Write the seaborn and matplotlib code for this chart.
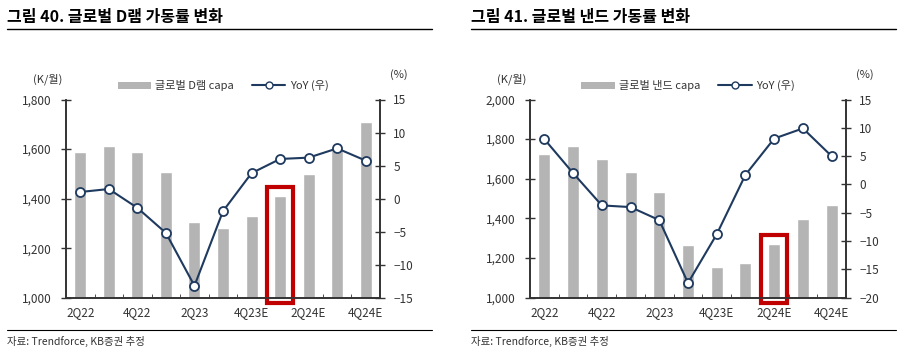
import matplotlib
matplotlib.use('Agg')
import matplotlib.pyplot as plt
import seaborn as sns
import pandas as pd
from matplotlib.patches import Rectangle, Patch
from matplotlib.lines import Line2D
from matplotlib.ticker import FuncFormatter

quarters = ['2Q22', '3Q22', '4Q22', '1Q23', '2Q23', '3Q23', '4Q23E',
            '1Q24E', '2Q24E', '3Q24E', '4Q24E']
tick_labels = ['2Q22', '', '4Q22', '', '2Q23', '', '4Q23E', '', '2Q24E', '', '4Q24E']

dram_capa = [1590, 1613, 1590, 1507, 1306, 1281, 1330, 1412, 1500, 1605, 1708]
dram_yoy = [1.0, 1.45, -1.4, -5.2, -13.2, -1.9, 3.85, 6.0, 6.2, 7.6, 5.75]
nand_capa = [1726, 1763, 1699, 1632, 1534, 1266, 1157, 1175, 1271, 1398, 1468]
nand_yoy = [8.0, 2.0, -3.7, -4.0, -6.3, -17.4, -8.8, 1.7, 8.1, 9.9, 5.0]

sns.set_style('white')
plt.rcParams['font.family'] = ['Noto Sans CJK KR', 'DejaVu Sans']

BAR = '#b4b4b4'
NAVY = '#1f3a5f'
RED = '#c00000'
INK = '#333333'

W, H = 900, 350
fig = plt.figure(figsize=(9, 3.5), dpi=100)


def fx(px):
    return px / W


def fy(py):
    return 1 - py / H


def panel(x0, x1, ax_l, ax_r, title, capa, yoy, capa_label,
          lticks, rticks, hl):
    df = pd.DataFrame({'quarter': quarters, 'pos': range(len(quarters)),
                       'capa': capa, 'yoy': yoy})
    ax1 = fig.add_axes([fx(ax_l), fy(297.7), fx(ax_r - ax_l), (297.7 - 99.5) / H])
    sns.barplot(data=df, x='quarter', y='capa', order=quarters, ax=ax1,
                color=BAR, width=0.42, saturation=1)
    ax1.set_ylim(lticks[0], lticks[-1])
    ax1.set_xlim(-0.5, len(quarters) - 0.5)
    ax1.set_yticks(lticks)
    ax1.yaxis.set_major_formatter(FuncFormatter(lambda v, p: f'{int(v):,}'))
    ax1.set_xticks(range(len(quarters)), tick_labels)
    ax1.set_xticks([i + 0.5 for i in range(len(quarters) - 1)], minor=True)
    ax1.tick_params(axis='x', which='major', length=0, pad=6, labelsize=8.5, colors=INK)
    ax1.tick_params(axis='x', which='minor', direction='in', length=3, color=INK, bottom=True)
    ax1.tick_params(axis='y', direction='inout', length=7, width=1, color=INK,
                    labelsize=8.5, labelcolor=INK, left=True, pad=7)
    ax1.set_xlabel('')
    ax1.set_ylabel('')

    ax2 = ax1.twinx()
    sns.lineplot(data=df, x='pos', y='yoy', ax=ax2, color=NAVY, linewidth=1.5,
                 marker='o', markersize=6.5, markerfacecolor='white',
                 markeredgecolor=NAVY, markeredgewidth=1.3)
    ax2.set_ylim(rticks[0], rticks[-1])
    ax2.set_yticks(rticks)
    ax2.yaxis.set_major_formatter(FuncFormatter(lambda v, p: f'{int(v)}'.replace('-', '\u2212')))
    ax2.tick_params(axis='y', direction='inout', length=7, width=1, color=INK,
                    labelsize=8.5, labelcolor=INK, right=True, pad=6)
    ax2.set_ylabel('')
    ax2.set_xlabel('')

    for a in (ax1, ax2):
        a.spines['top'].set_visible(False)
        for s in ('left', 'right', 'bottom'):
            a.spines[s].set_color(INK)
            a.spines[s].set_linewidth(1.2)
        a.grid(False)

    # highlight box around a quarter
    pad = (lticks[-1] - lticks[0]) * 0.045
    ax1.add_patch(Rectangle((hl - 0.45, lticks[0] - pad * 0.6), 0.9,
                            capa[hl] - lticks[0] + pad * 1.6,
                            fill=False, edgecolor=RED, linewidth=3,
                            clip_on=False, zorder=10))

    handles = [Patch(facecolor=BAR, edgecolor='none'),
               Line2D([], [], color=NAVY, linewidth=1.5, marker='o', markersize=5,
                      markerfacecolor='white', markeredgecolor=NAVY)]
    ax2.legend(handles, [capa_label, 'YoY (우)'], loc='center',
               bbox_to_anchor=(0.5, 1.07), ncol=2, frameon=False, fontsize=8,
               handlelength=3.0, handleheight=0.6, handletextpad=0.4,
               columnspacing=1.6, labelcolor=INK)

    fig.text(fx(ax_l - 18), fy(79), '(K/월)', ha='center', va='center', fontsize=8, color=INK)
    fig.text(fx(ax_r + 19), fy(75), '(%)', ha='center', va='center', fontsize=8, color=INK)

    fig.text(fx(x0), fy(17), title, ha='left', va='center', fontsize=11.5,
             fontweight='bold', color='black')
    fig.add_artist(Line2D([fx(x0), fx(x1)], [fy(29), fy(29)], color='black', linewidth=1))
    fig.add_artist(Line2D([fx(x0), fx(x1)], [fy(330), fy(330)], color='black', linewidth=0.8))
    fig.text(fx(x0), fy(341), '자료: Trendforce, KB증권 추정', ha='left', va='center',
             fontsize=7.5, color=INK)


panel(7, 432, 66, 380, '그림 40. 글로벌 D램 가동률 변화', dram_capa, dram_yoy,
      '글로벌 D램 capa', [1000, 1200, 1400, 1600, 1800],
      [-15, -10, -5, 0, 5, 10, 15], 7)
panel(471, 896, 530, 846, '그림 41. 글로벌 낸드 가동률 변화', nand_capa, nand_yoy,
      '글로벌 낸드 capa', [1000, 1200, 1400, 1600, 1800, 2000],
      [-20, -15, -10, -5, 0, 5, 10, 15], 8)

fig.savefig('out.png', dpi=100)
